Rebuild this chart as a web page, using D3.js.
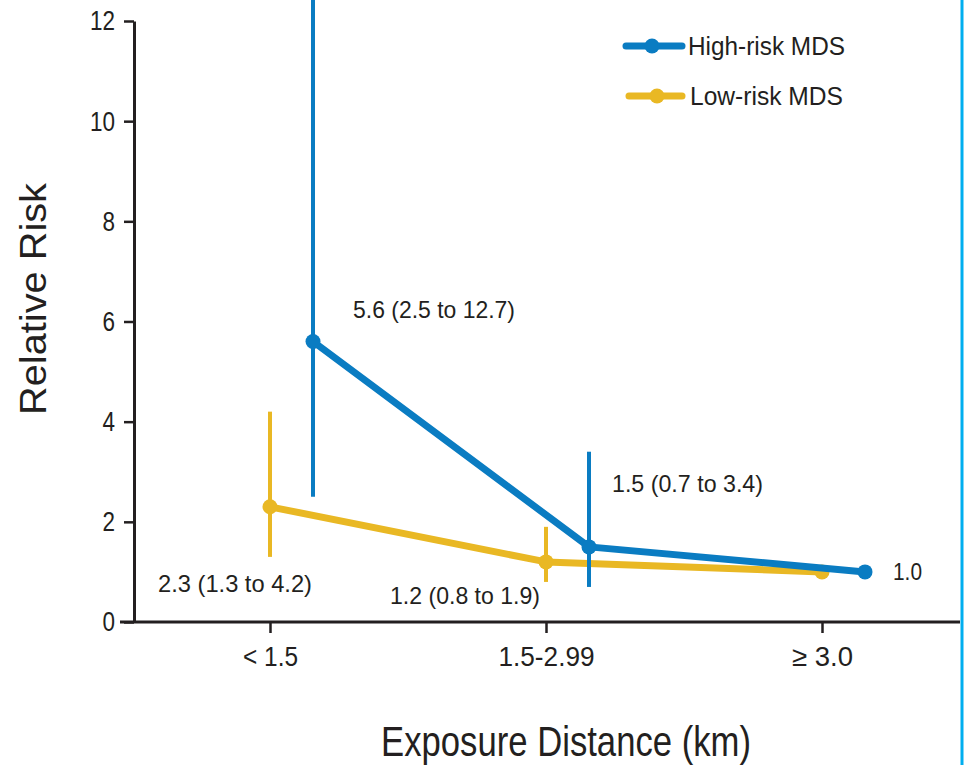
<!DOCTYPE html>
<html><head><meta charset="utf-8">
<script src="https://cdn.jsdelivr.net/npm/d3@7"></script>
<style>
body{margin:0;background:#fff;}
text{font-family:"Liberation Sans",Arial,Roboto,sans-serif;fill:#231f20;}
</style></head>
<body><svg id="c" width="964" height="765"></svg>
<script>
const categories = ["< 1.5", "1.5-2.99", "\u2265 3.0"];
const yTicks = [0, 2, 4, 6, 8, 10, 12];
const highRisk = [5.6, 1.5, 1.0];
const highLow = [2.5, 0.7, null];
const highHigh = [12.7, 3.4, null];
const highLabels = ["5.6 (2.5 to 12.7)", "1.5 (0.7 to 3.4)", "1.0"];
const lowRisk = [2.3, 1.2, 1.0];
const lowLow = [1.3, 0.8, null];
const lowHigh = [4.2, 1.9, null];
const lowLabels = ["2.3 (1.3 to 4.2)", "1.2 (0.8 to 1.9)", ""];
const seriesNames = ["High-risk MDS", "Low-risk MDS"];

// styling / layout (not data)
const BLUE = "#0a7cc2", YELLOW = "#e9b824", INK = "#231f20";
const xTickWidths = [55, 96, 61];
const svg = d3.select("#c");
const x = d3.scalePoint().domain(categories).range([270, 822]);
const y = d3.scaleLinear().domain([0, 12]).range([622, 21]);
const blueOff = 43;

function fit(sel, w) {
  sel.attr("textLength", w).attr("lengthAdjust", "spacingAndGlyphs");
  return sel;
}

// right border
svg.append("line").attr("x1", 962).attr("x2", 962).attr("y1", 0).attr("y2", 765)
  .attr("stroke", "#00aeef").attr("stroke-width", 3);

// axes
const gx = svg.append("g").attr("transform", "translate(0,622)")
  .call(d3.axisBottom(x).tickSize(11).tickPadding(13));
gx.select(".domain").remove();
gx.selectAll(".tick line").attr("stroke", INK).attr("stroke-width", 2.5);
gx.selectAll(".tick text").attr("font-size", 28).attr("fill", INK)
  .attr("textLength", (d, i) => xTickWidths[i]).attr("lengthAdjust", "spacingAndGlyphs");
svg.append("line").attr("x1", 120).attr("x2", 960).attr("y1", 622).attr("y2", 622)
  .attr("stroke", INK).attr("stroke-width", 3);

const gy = svg.append("g").attr("transform", "translate(134,0)")
  .call(d3.axisLeft(y).tickValues(yTicks).tickSize(10).tickSizeOuter(0).tickPadding(9));
gy.select(".domain").attr("stroke", INK).attr("stroke-width", 3);
gy.selectAll(".tick line").attr("stroke", INK).attr("stroke-width", 2.5);
gy.selectAll(".tick text").attr("font-size", 28).attr("fill", INK)
  .attr("textLength", d => d >= 10 ? 25 : 12.5).attr("lengthAdjust", "spacingAndGlyphs");

fit(svg.append("text").attr("transform", "translate(46,299) rotate(-90)")
  .attr("text-anchor", "middle").attr("font-size", 36).text("Relative Risk"), 232);
fit(svg.append("text").attr("x", 566).attr("y", 756).attr("text-anchor", "middle")
  .attr("font-size", 42).text("Exposure Distance (km)"), 370);

function drawSeries(vals, lo, hi, color, off) {
  const g = svg.append("g");
  const line = d3.line().x((d, i) => x(categories[i]) + off).y(d => y(d));
  g.selectAll("line.err").data(vals).enter().filter((d, i) => lo[i] != null)
    .append("line")
    .attr("x1", (d, i) => x(categories[i]) + off).attr("x2", (d, i) => x(categories[i]) + off)
    .attr("y1", (d, i) => y(lo[i])).attr("y2", (d, i) => y(hi[i]))
    .attr("stroke", color).attr("stroke-width", 4);
  g.append("path").datum(vals).attr("d", line).attr("fill", "none")
    .attr("stroke", color).attr("stroke-width", 7).attr("stroke-linejoin", "round");
  g.selectAll("circle").data(vals).enter().append("circle")
    .attr("cx", (d, i) => x(categories[i]) + off).attr("cy", d => y(d)).attr("r", 7.5)
    .attr("fill", color);
}
drawSeries(lowRisk, lowLow, lowHigh, YELLOW, 0);
drawSeries(highRisk, highLow, highHigh, BLUE, blueOff);

// annotations
const annFs = 24;
const hiPos = [[353, 318, 162], [612, 492, 151], [893, 580, 29]];
highLabels.forEach((t, i) => fit(svg.append("text").attr("x", hiPos[i][0]).attr("y", hiPos[i][1])
  .attr("font-size", annFs).text(t), hiPos[i][2]));
const loPos = [[158, 592, 154], [390, 604, 150]];
lowLabels.forEach((t, i) => { if (t) fit(svg.append("text").attr("x", loPos[i][0]).attr("y", loPos[i][1])
  .attr("font-size", annFs).text(t), loPos[i][2]); });

// legend
const leg = [[626, 682, 652, 46, 688, BLUE, 157], [629, 682, 657, 96, 690, YELLOW, 153]];
seriesNames.forEach((n, i) => {
  const [a, b, c, yy, tx, col, w] = leg[i];
  svg.append("line").attr("x1", a).attr("x2", b).attr("y1", yy).attr("y2", yy)
    .attr("stroke", col).attr("stroke-width", 7).attr("stroke-linecap", "round");
  svg.append("circle").attr("cx", c).attr("cy", yy).attr("r", 7.5).attr("fill", col);
  fit(svg.append("text").attr("x", tx).attr("y", yy + 9).attr("font-size", 26).text(n), w);
});
</script></body></html>
